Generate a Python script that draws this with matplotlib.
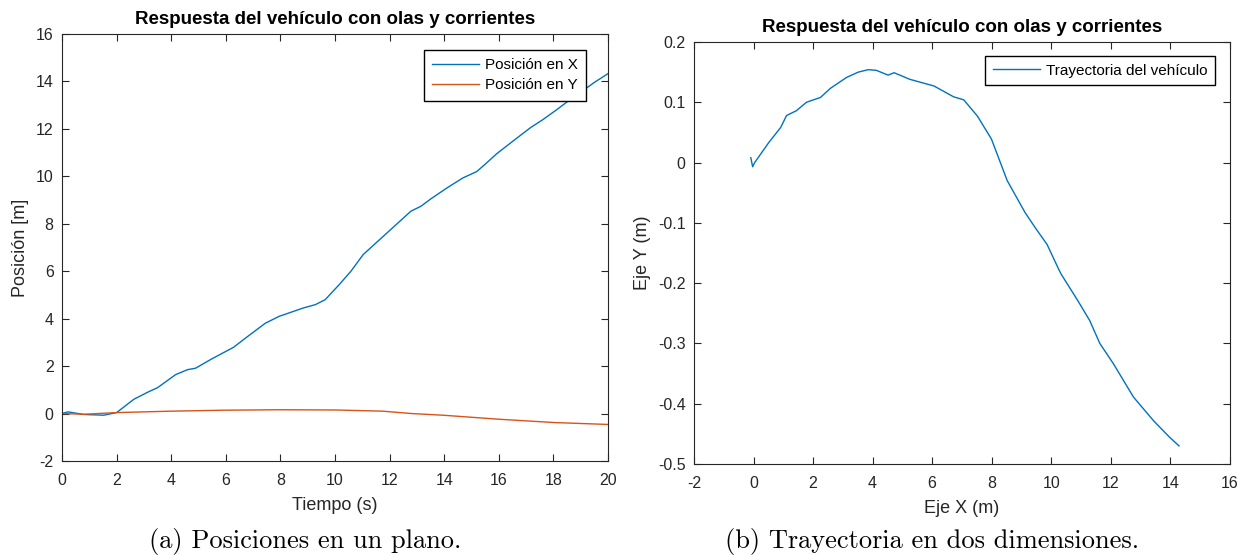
import matplotlib
matplotlib.use("Agg")
from matplotlib import pyplot as plt

# Posicion en X del vehiculo frente al tiempo
t_x = [0, 0.22, 0.8, 1.53, 2.0, 2.63, 3.14, 3.5, 4.16, 4.6, 4.89, 5.48, 6.28, 6.72,
       7.45, 7.96, 8.84, 9.28, 9.64, 10.15, 10.59, 11.03, 11.9, 12.78, 13.15, 13.51,
       14.1, 14.68, 15.19, 15.48, 15.92, 16.58, 17.17, 17.6, 18.11, 18.77, 19.21,
       19.5, 20.0]
pos_x = [0, 0.07, -0.04, -0.07, 0.04, 0.6, 0.9, 1.09, 1.64, 1.85, 1.91, 2.3, 2.79, 3.18,
         3.81, 4.1, 4.45, 4.59, 4.8, 5.43, 6.01, 6.7, 7.61, 8.53, 8.74, 9.05,
         9.51, 9.93, 10.2, 10.49, 10.95, 11.54, 12.06, 12.38, 12.8, 13.37, 13.72,
         13.96, 14.33]

# Posicion en Y del vehiculo frente al tiempo
t_y = [0, 0.8, 2.0, 4.0, 5.9, 7.96, 10.0, 11.75, 12.8, 13.95, 16.0, 18.04, 20.0]
pos_y = [0, -0.03, 0.04, 0.1, 0.14, 0.16, 0.15, 0.1, 0.0, -0.07, -0.24, -0.38, -0.46]

# Trayectoria en el plano XY
tray_x = [-0.09, -0.03, 0.04, 0.51, 0.91, 1.11, 1.44, 1.78, 2.25, 2.58, 3.12, 3.52,
          3.85, 4.12, 4.52, 4.72, 5.25, 6.06, 6.72, 7.06, 7.52, 7.99, 8.52, 9.12,
          9.46, 9.86, 10.23, 10.33, 10.89, 11.29, 11.63, 12.09, 12.76, 13.43, 13.96,
          14.29]
tray_y = [0.008, -0.007, 0.0, 0.033, 0.058, 0.078, 0.086, 0.1, 0.108, 0.123, 0.141, 0.15,
          0.154, 0.153, 0.145, 0.149, 0.138, 0.127, 0.109, 0.104, 0.077, 0.039, -0.03,
          -0.083, -0.108, -0.136, -0.175, -0.185, -0.229, -0.262, -0.3, -0.334, -0.389,
          -0.428, -0.455, -0.47]

ticks_t = list(range(0, 21, 2))
ticks_pos = list(range(-2, 17, 2))
ticks_ejex = list(range(-2, 17, 2))
ticks_ejey = [-0.5, -0.4, -0.3, -0.2, -0.1, 0, 0.1, 0.2]
etiquetas_ejey = ["-0.5", "-0.4", "-0.3", "-0.2", "-0.1", "0", "0.1", "0.2"]

azul = "#0072BD"
naranja = "#D95319"
gris = "#262626"

plt.rcParams["font.family"] = "Liberation Sans"
plt.rcParams["font.size"] = 11.5

fig = plt.figure(figsize=(12.45, 5.55), dpi=100)
ax1 = fig.add_axes([0.0498, 0.1694, 0.4386, 0.7694])
ax2 = fig.add_axes([0.5574, 0.1640, 0.4305, 0.7604])


def estilo(ax):
    ax.tick_params(direction="in", top=True, right=True, length=5, width=0.8,
                   labelsize=11.5, colors=gris)
    ax.tick_params(axis="x", pad=9)
    ax.tick_params(axis="y", pad=6)
    for s in ax.spines.values():
        s.set_linewidth(0.8)
        s.set_color(gris)


ax1.plot(t_x, pos_x, color=azul, lw=1.0, label="Posición en X")
ax1.plot(t_y, pos_y, color=naranja, lw=1.0, label="Posición en Y")
ax1.set_xlim(0, 20)
ax1.set_ylim(-2, 16)
ax1.set_xticks(ticks_t, [str(v) for v in ticks_t])
ax1.set_yticks(ticks_pos, [str(v) for v in ticks_pos])
ax1.set_xlabel("Tiempo (s)", fontsize=13, color=gris, labelpad=6)
ax1.set_ylabel("Posición [m]", fontsize=13, color=gris, labelpad=5)
ax1.set_title("Respuesta del vehículo con olas y corrientes", fontsize=13.5,
              fontweight="bold", pad=7)
estilo(ax1)
ax1.legend(loc="upper right", bbox_to_anchor=(0.9597, 0.9625), borderaxespad=0,
           fancybox=False, edgecolor="black", framealpha=1, fontsize=11,
           handlelength=3.1, handletextpad=0.35, borderpad=0.55, labelspacing=0.38)

ax2.plot(tray_x, tray_y, color=azul, lw=1.0, label="Trayectoria del vehículo")
ax2.set_xlim(-2, 16)
ax2.set_ylim(-0.5, 0.2)
ax2.set_xticks(ticks_ejex, [str(v) for v in ticks_ejex])
ax2.set_yticks(ticks_ejey, etiquetas_ejey)
ax2.set_xlabel("Eje X (m)", fontsize=13, color=gris, labelpad=6)
ax2.set_ylabel("Eje Y (m)", fontsize=13, color=gris, labelpad=5)
ax2.set_title("Respuesta del vehículo con olas y corrientes", fontsize=13.5,
              fontweight="bold", pad=7)
estilo(ax2)
ax2.legend(loc="upper right", bbox_to_anchor=(0.972, 0.967), borderaxespad=0,
           fancybox=False, edgecolor="black", framealpha=1, fontsize=11,
           handlelength=3.1, handletextpad=0.35, borderpad=0.5)

# Pies de figura
fig.text(0.245, 0.025, "(a) Posiciones en un plano.", family="cmr10", fontsize=19,
         ha="center", va="center")
fig.text(0.749, 0.025, "(b) Trayectoria en dos dimensiones.", family="cmr10",
         fontsize=19, ha="center", va="center")

fig.savefig("out.png", dpi=100)
